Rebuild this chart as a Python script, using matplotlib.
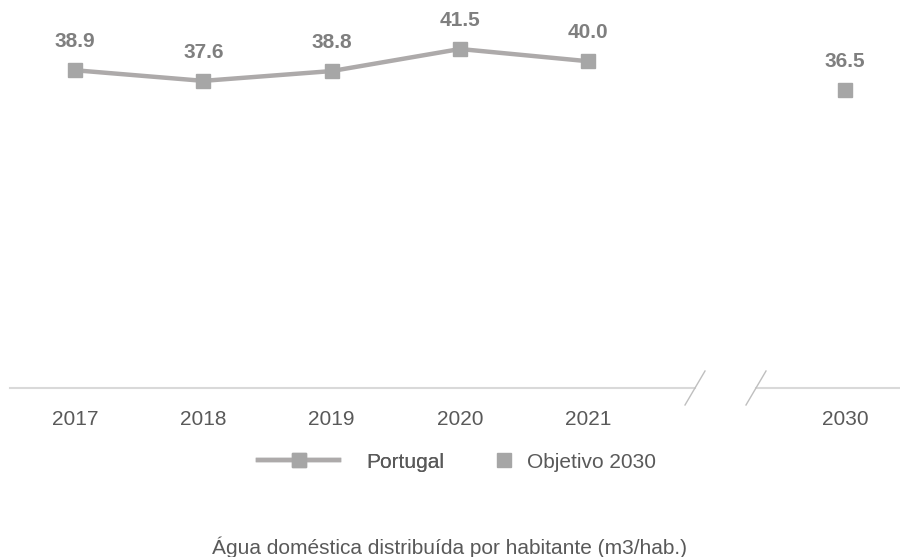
import matplotlib
matplotlib.use("Agg")
import matplotlib.pyplot as plt
from matplotlib.lines import Line2D

plt.rcParams['font.family'] = ['Liberation Sans', 'DejaVu Sans']

# data
categories = ['2017', '2018', '2019', '2020', '2021', '', '2030']
portugal_years = ['2017', '2018', '2019', '2020', '2021']
portugal_values = [38.9, 37.6, 38.8, 41.5, 40.0]
target_year = '2030'
target_value = 36.5

line_color = '#ADAAAA'
marker_color = '#A6A6A6'
label_color = '#7F7F7F'
text_color = '#595959'
axis_color = '#D9D9D9'

W, H = 900, 557
fig = plt.figure(figsize=(9, 5.57), dpi=100)
ax = fig.add_axes([0, 1 - 388 / H, 1, 388 / H])

xpos = {c: i for i, c in enumerate(categories)}
px = [xpos[y] for y in portugal_years]

ax.plot(px, portugal_values, color=line_color, lw=3.2, marker='s', ms=10,
        mfc=marker_color, mec=marker_color, zorder=3)
ax.plot([xpos[target_year]], [target_value], ls='none', marker='s', ms=10,
        mfc=marker_color, mec=marker_color, zorder=3)

for x, v in zip(px + [xpos[target_year]], portugal_values + [target_value]):
    ax.annotate(f'{v:.1f}', (x, v), xytext=(0, 20.5), textcoords='offset points',
                ha='center', va='center', fontsize=15, fontweight='bold',
                color=label_color)

# category 0 at pixel 75, spacing ~128.3px, axes spans full width
step = 128.33
ax.set_xlim(-75 / step, (900 - 75) / step)
ax.set_ylim(0, 47.5)

for s in ax.spines.values():
    s.set_visible(False)
ax.set_yticks([])
ax.set_xticks(range(len(categories)))
ax.set_xticklabels(categories, fontsize=15, color=text_color)
ax.tick_params(axis='x', length=0, pad=16)

# broken axis line
b1 = (695 - 75) / step
b2 = (756 - 75) / step
x0 = (10 - 75) / step
x1 = ax.get_xlim()[1]
ax.plot([x0, b1], [0, 0], color=axis_color, lw=1.5, clip_on=False)
ax.plot([b2, x1], [0, 0], color=axis_color, lw=1.5, clip_on=False)
dx = 10 / step
dy = 17 / 388 * 47.5
for b in (b1, b2):
    ax.plot([b - dx, b + dx], [-dy, dy], color='#BFBFBF', lw=1, clip_on=False)

# legends
h1 = Line2D([], [], color=line_color, lw=3.2, marker='s', ms=10,
            mfc=marker_color, mec=marker_color)
h2 = Line2D([], [], ls='none', marker='s', ms=10, mfc=marker_color,
            mec=marker_color)
leg1 = fig.legend([h1], ['Portugal'], loc='center left',
                  bbox_to_anchor=(258 / W, 1 - 462 / H), frameon=False,
                  fontsize=15, labelcolor=text_color, handlelength=3.9,
                  handletextpad=1.3, borderpad=0, borderaxespad=0)
leg2 = fig.legend([h2], ['Objetivo 2030'], loc='center left',
                  bbox_to_anchor=(494 / W, 1 - 462 / H), frameon=False,
                  fontsize=15, labelcolor=text_color, handlelength=1.0,
                  handletextpad=0.6, borderpad=0, borderaxespad=0)
fig.add_artist(leg1)

fig.text(0.5, 1 - 547 / H, 'Água doméstica distribuída por habitante (m3/hab.)',
         ha='center', va='center', fontsize=15, color=text_color)

fig.savefig('out.png', dpi=100)
